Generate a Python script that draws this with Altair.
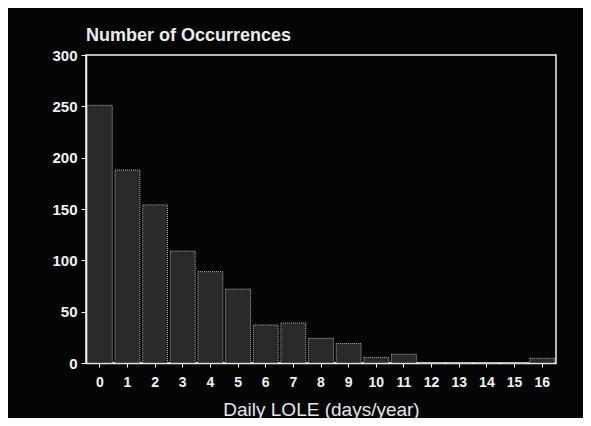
import altair as alt
import pandas as pd

lole_days = [str(i) for i in range(17)]
occurrences = [251, 188, 154, 109, 89, 72, 37, 39, 24, 19, 5.5, 8.5, 0, 0, 0, 0, 4.5]

df = pd.DataFrame({"lole": lole_days, "count": occurrences})

FONT = "Liberation Sans"
WHITE = "#f2f2f2"

bars = alt.Chart(df).mark_bar(
    fill="#2a2a2a",
    stroke="#b0b0b0",
    strokeWidth=1,
    strokeDash=[1, 1],
).encode(
    x=alt.X(
        "lole:N",
        sort=lole_days,
        scale=alt.Scale(paddingInner=0.1, paddingOuter=0.05),
        axis=alt.Axis(
            title="Daily LOLE (days/year)",
            labelAngle=0,
            labelFont=FONT,
            labelFontSize=14,
            labelFontWeight="bold",
            labelColor=WHITE,
            labelPadding=8,
            tickSize=4,
            tickColor=WHITE,
            domainColor=WHITE,
            domainWidth=1.5,
            titleFont=FONT,
            titleFontSize=19,
            titleFontWeight="normal",
            titleColor="#e6e6e6",
            titlePadding=11,
        ),
    ),
    y=alt.Y(
        "count:Q",
        scale=alt.Scale(domain=[0, 300]),
        axis=alt.Axis(
            title=None,
            values=[0, 50, 100, 150, 200, 250, 300],
            grid=False,
            labelFont=FONT,
            labelFontSize=15,
            labelFontWeight="bold",
            labelColor=WHITE,
            labelPadding=4,
            tickSize=5,
            tickColor=WHITE,
            domainColor=WHITE,
            domainWidth=1.5,
        ),
    ),
)

chart = bars.properties(
    width=470,
    height=308,
    title=alt.TitleParams(
        "Number of Occurrences",
        anchor="start",
        frame="group",
        font=FONT,
        fontSize=18,
        fontWeight="bold",
        color="#ececec",
        offset=3,
    ),
    autosize=alt.AutoSizeParams(type="none"),
    padding={"left": 78, "top": 47, "right": 27, "bottom": 55},
    background="#050505",
).configure_view(
    stroke=WHITE,
    strokeWidth=1.5,
)

chart.save("out.html", embed_options={"renderer": "svg", "actions": False})
